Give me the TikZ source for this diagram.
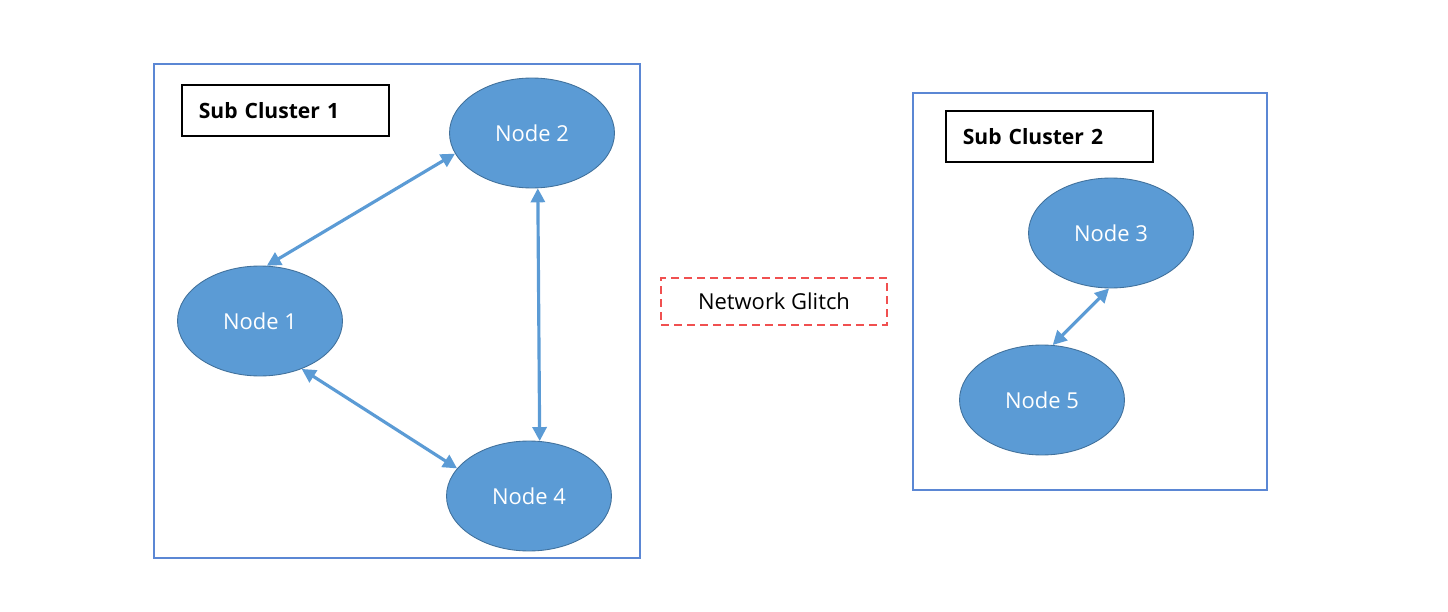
\documentclass[tikz,border=0pt]{standalone}
\usepackage{fontspec}
\setmainfont{Open Sans}
\usetikzlibrary{shapes.geometric,arrows.meta}

\definecolor{nodefill}{RGB}{91,155,213}
\definecolor{nodeline}{RGB}{65,113,156}
\definecolor{clusterline}{RGB}{91,135,212}
\definecolor{glitchred}{RGB}{240,80,80}

\tikzset{
  member/.style={ellipse, fill=nodefill, draw=nodeline, line width=0.5pt,
    minimum width=3.3cm, minimum height=2.2cm, inner sep=0pt,
    text=white, font=\fontsize{12.5}{15}\selectfont},
  clusterbox/.style={draw=clusterline, line width=0.9pt},
  namebox/.style={draw=black, line width=0.9pt, anchor=north west,
    minimum width=4.14cm, minimum height=1.02cm, inner xsep=0.34cm,
    text width=3.46cm, align=left, font=\fontsize{12}{15}\selectfont\bfseries},
  link/.style={draw=nodefill, line width=1.8pt,
    {Triangle[length=0.28cm,width=0.28cm]}-{Triangle[length=0.28cm,width=0.28cm]}}
}

\begin{document}
\begin{tikzpicture}[x=0.02cm, y=-0.02cm]
    \useasboundingbox (0,0) rectangle (1448,612);

    % Clusters
    \draw[clusterbox] (154,64) rectangle (640,558);
    \draw[clusterbox] (913,93) rectangle (1267,490);
    \node[namebox] (sc1) at (181,84) {Sub Cluster 1};
    \node[namebox] (sc2) at (945,110) {Sub Cluster 2};

    % Nodes
    \node[member] (n1) at (260,321) {Node 1};
    \node[member] (n2) at (532,133) {Node 2};
    \node[member] (n4) at (529,496) {Node 4};
    \node[member] (n3) at (1111,233) {Node 3};
    \node[member] (n5) at (1042,400) {Node 5};

    % Glitch
    \node[draw=glitchred, dash pattern=on 0.16cm off 0.1cm, line width=0.9pt,
      minimum width=4.52cm, minimum height=0.94cm,
      font=\fontsize{12.5}{15}\selectfont]
      (glitch) at (774,301.5) {Network Glitch};

    % Arrows
    \draw[link] (n1.83) -- (n2.195);
    \draw[link] (n2.276) -- (n4.79);
    \draw[link] (n1.311) -- (n4.159);
    \draw[link] (n3.268) -- (n5.79);
\end{tikzpicture}
\end{document}
